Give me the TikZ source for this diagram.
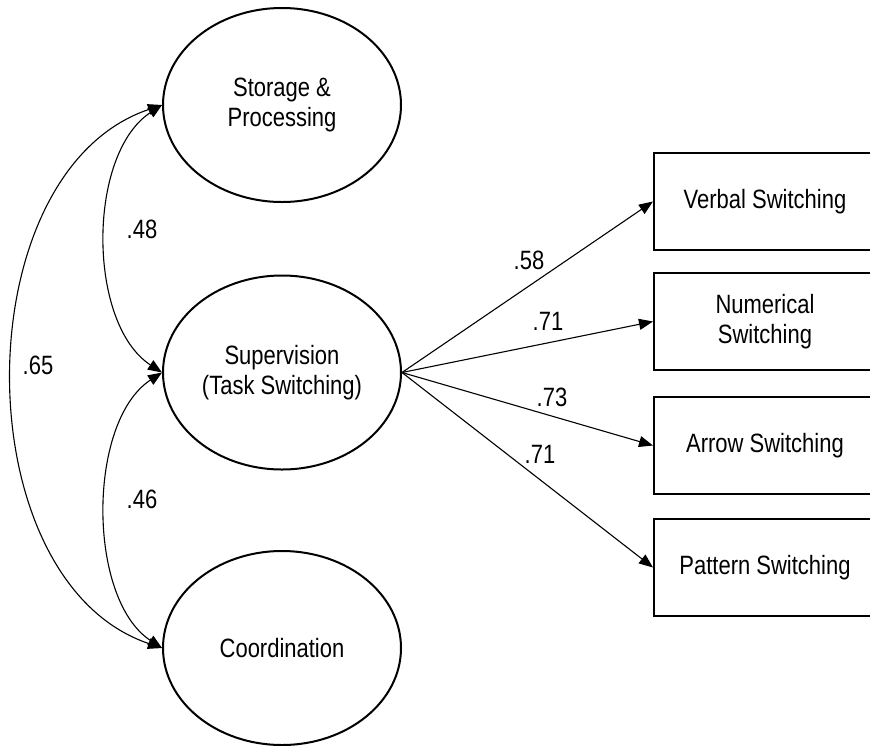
\documentclass[tikz,border=0pt]{standalone}
\usepackage{fontspec}
\setmainfont[FakeStretch=0.83]{Liberation Sans}
\usetikzlibrary{shapes.geometric,arrows.meta}
\begin{document}
\begin{tikzpicture}[x=1pt,y=-1pt,
  txt/.style={font=\fontsize{26.5}{30}\selectfont},
  latent/.style={ellipse,draw,line width=2pt,minimum width=238pt,minimum height=194pt,inner sep=0pt,align=center,txt},
  obs/.style={rectangle,draw,line width=2pt,minimum width=222pt,minimum height=97pt,inner sep=0pt,align=center,txt},
  conn/.style={line width=1.1pt,-{Triangle[length=14pt,width=11pt]}},
  cov/.style={line width=1.1pt,{Triangle[length=14pt,width=11pt]}-{Triangle[length=14pt,width=11pt]}},
  lbl/.style={inner sep=0pt,txt}]
\path[use as bounding box, clip] (0,0) rectangle (870,745);
\node[latent] (sp) at (282,105) {Storage \&\\Processing};
\node[latent] (sup) at (282,372.5) {Supervision\\(Task Switching)};
\node[latent] (co) at (282,648) {Coordination};
\node[obs] (vs) at (765,201.5) {Verbal Switching};
\node[obs] (ns) at (765,321.5) {Numerical\\Switching};
\node[obs] (as) at (765,445.5) {Arrow Switching};
\node[obs] (ps) at (765,567.5) {Pattern Switching};
\draw[conn] (sup.east) -- (vs.west);
\draw[conn] (sup.east) -- (ns.west);
\draw[conn] (sup.east) -- (as.west);
\draw[conn] (sup.east) -- (ps.west);
\draw[cov] (sp.west) .. controls +(-199,67) and +(-199,-67) .. (co.west);
\draw[cov] (sp.west) .. controls +(-75,49) and +(-75,-49) .. (sup.west);
\draw[cov] (sup.west) .. controls +(-75,49) and +(-75,-49) .. (co.west);
\node[lbl] (l58) at (529,260) {.58};
\node[lbl] (l71a) at (548,321) {.71};
\node[lbl] (l73) at (552,397) {.73};
\node[lbl] (l71b) at (540,454) {.71};
\node[lbl] (l48) at (142,229) {.48};
\node[lbl] (l46) at (142,499) {.46};
\node[lbl] (l65) at (38,365) {.65};
\end{tikzpicture}
\end{document}
